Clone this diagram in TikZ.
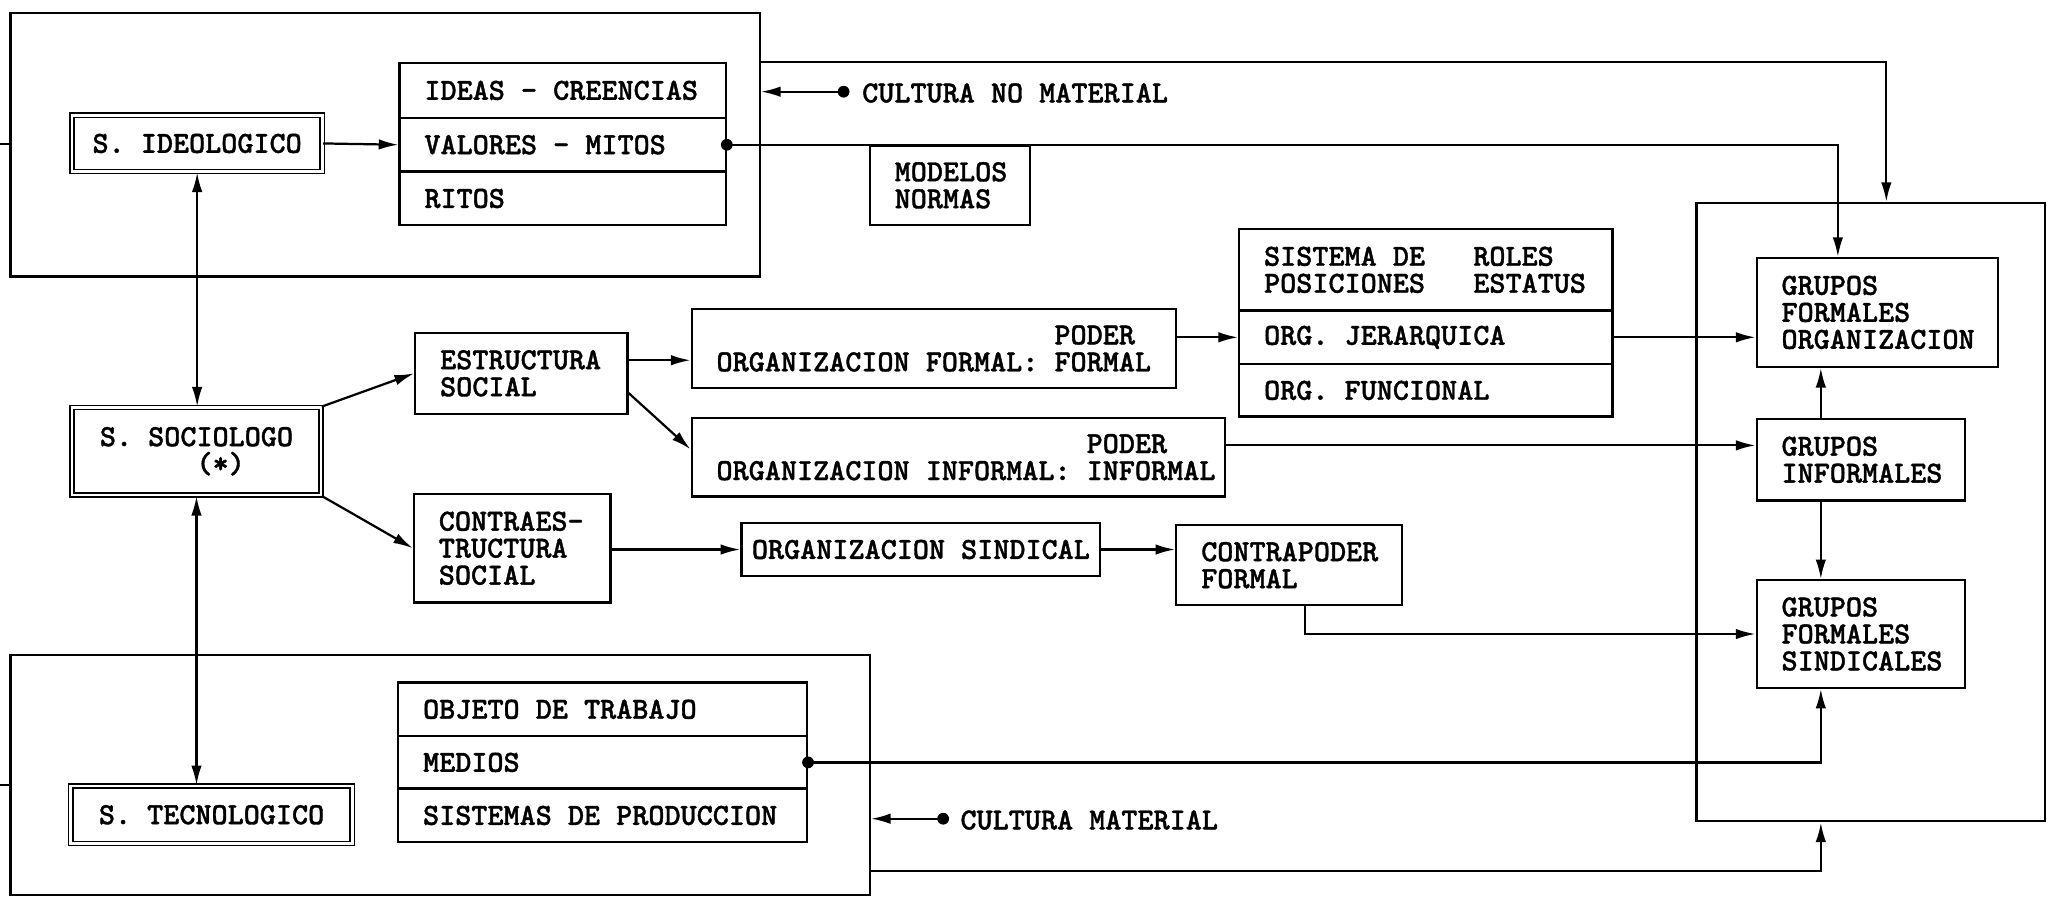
\documentclass[tikz,border=0pt]{standalone}
\usepackage{fontspec}
\newfontfamily\typewriterbold{lmmonolt10-bold}[Extension=.otf,FakeBold=1.2]
\usetikzlibrary{arrows.meta,calc}
\newcommand\diagtxt{\typewriterbold\fontsize{23.4}{20.6}\selectfont
  \hyphenpenalty=10000\exhyphenpenalty=10000\relax}
\newcommand\monospacing{\spaceskip=\fontcharwd\font`M\relax\xspaceskip=\spaceskip}
\newcommand\blanks[1]{\hspace*{#1\fontcharwd\font`M}}
\begin{document}
\begin{tikzpicture}[x=1pt,y=-1pt,
  ln/.style={line width=1.7pt},
  >={Latex[length=15pt,width=8pt]},
  arr/.style={ln,->},
  darr/.style={ln,<->},
  box/.style={draw,ln,inner xsep=19pt,inner ysep=0pt,align=left,font=\diagtxt,
    execute at begin node=\monospacing},
  sbox/.style={draw,line width=1.2pt,double,double distance=2pt,inner sep=0pt,align=center,
    font=\diagtxt,execute at begin node=\monospacing},
  frame/.style={draw,ln,inner sep=0pt},
  lbl/.style={font=\diagtxt,inner sep=0pt,anchor=west,execute at begin node=\monospacing},
  sz/.style n args={3}{minimum width=#1,minimum height=#2,text width=#3},
  dotr/.style={radius=4.5pt}]
\useasboundingbox (0,0) rectangle (1568,684);

% frames
\node[frame,minimum width=572pt,minimum height=201pt] (topframe) at (294,110.5) {};
\node[frame,minimum width=266pt,minimum height=472pt] (rightframe) at (1428,391) {};
\node[frame,minimum width=656pt,minimum height=183pt] (botframe) at (336,591.5) {};

% ideological subsystem
\node[sbox,minimum width=191pt,minimum height=43pt] (ideo) at (150.5,109.5) {S. IDEOLOGICO};
\node[box,sz={249pt}{42pt}{211pt}] (ideas) at (429.5,69) {\mbox{IDEAS - CREENCIAS}};
\node[box,sz={249pt}{41pt}{211pt}] (valores) at (429.5,110.5) {VALORES - MITOS};
\node[box,sz={249pt}{41pt}{211pt}] (ritos) at (429.5,151.5) {RITOS};
\node[box,sz={122pt}{61pt}{84pt}] (modelos) at (725,141.5) {MODELOS\\NORMAS};
\coordinate (cnmdot) at (644,70);
\node[lbl] (cnm) at (658,71) {CULTURA NO MATERIAL};

% sociological subsystem
\node[sbox,minimum width=190pt,minimum height=67pt,align=left] (socio) at (150,344.5) {S. SOCIOLOGO\\\blanks{6}(*)};
\node[box,sz={162pt}{62pt}{124pt}] (estructura) at (398,285) {\mbox{ESTRUCTURA}\\SOCIAL};
\node[box,sz={150pt}{83pt}{112pt}] (contraes) at (391,418.5) {CONTRAES-\\TRUCTURA\\SOCIAL};
\node[box,sz={370pt}{60pt}{332pt}] (orgformal) at (713,266) {\blanks{21}PODER\\\mbox{ORGANIZACION FORMAL: FORMAL}};
\node[box,sz={407pt}{60pt}{369pt}] (orginformal) at (731.5,349) {\blanks{23}PODER\\\mbox{ORGANIZACION INFORMAL: INFORMAL}};
\node[box,align=center,inner xsep=0pt,minimum width=274pt,minimum height=41pt] (sindical) at (703,419.5) {ORGANIZACION SINDICAL};
\node[box,sz={172pt}{61pt}{134pt}] (contrapoder) at (984,431.5) {\mbox{CONTRAPODER}\\FORMAL};
\node[box,sz={285pt}{62pt}{247pt}] (sisroles) at (1088.5,206) {\mbox{SISTEMA DE\blanks{3}ROLES}\\\mbox{POSICIONES\blanks{3}ESTATUS}};
\node[box,sz={285pt}{41pt}{247pt}] (jer) at (1088.5,257.5) {ORG. JERARQUICA};
\node[box,sz={285pt}{40pt}{247pt}] (func) at (1088.5,298) {ORG. FUNCIONAL};

% groups
\node[box,sz={184pt}{83pt}{146pt}] (gfo) at (1433,238.5) {GRUPOS\\FORMALES\\\mbox{ORGANIZACION}};
\node[box,sz={159pt}{62pt}{121pt}] (ginf) at (1420.5,351) {GRUPOS\\\mbox{INFORMALES}};
\node[box,sz={159pt}{82pt}{121pt}] (gfs) at (1420.5,484) {GRUPOS\\FORMALES\\\mbox{SINDICALES}};

% technological subsystem
\node[sbox,minimum width=215pt,minimum height=44pt] (tecno) at (161.5,622) {S. TECNOLOGICO};
\node[box,sz={312pt}{41pt}{274pt}] (objeto) at (460,541.5) {OBJETO DE TRABAJO};
\node[box,sz={312pt}{40pt}{274pt}] (medios) at (460,582) {MEDIOS};
\node[box,sz={312pt}{41pt}{274pt}] (sistprod) at (460,622.5) {\mbox{SISTEMAS DE PRODUCCION}};
\coordinate (cmdot) at (720,625);
\node[lbl] (cm) at (733,626) {CULTURA MATERIAL};

% routing columns
\coordinate (colA) at (1390,0);
\coordinate (colB) at (1403,0);
\coordinate (colC) at (1440,0);
\coordinate (stubtop) at (0,110);
\coordinate (stubbot) at (0,599);

% connectors
\draw[ln] (stubtop) -- (stubtop -| topframe.west);
\draw[ln] (stubbot) -- (stubbot -| botframe.west);
\draw[arr] (ideo.east) -- (valores.west);
\draw[darr] (ideo.south) -- (ideo.south |- socio.north);
\draw[darr] (socio.south) -- (socio.south |- tecno.north);
\draw[arr] (socio.north east) -- (estructura.west);
\draw[arr] (socio.south east) -- (contraes.west);
\draw[arr] ([yshift=10pt]estructura.east) coordinate (e1) -- (e1 -| orgformal.west);
\draw[arr] ([yshift=-15pt]estructura.east) -- ([yshift=6pt]orginformal.west);
\draw[arr] (orgformal.east |- jer.west) -- (jer.west);
\draw[arr] (jer.east) -- (jer.east -| gfo.west);
\draw[arr] ([yshift=9pt]orginformal.east) coordinate (i1) -- (i1 -| ginf.west);
\draw[arr] (contraes.east |- sindical.west) -- (sindical.west);
\draw[arr] (sindical.east) -- (sindical.east -| contrapoder.west);
\draw[arr] ([xshift=12pt]contrapoder.south) |- (gfs.west);
\draw[arr] (ginf.north -| colA) -- (gfo.south -| colA);
\draw[arr] (ginf.south -| colA) -- (gfs.north -| colA);
\draw[arr] (medios.east) -| (gfs.south -| colA);
\fill[dotr] (medios.east) circle;
\draw[arr] ([yshift=-73.5pt]botframe.east) -| (rightframe.south -| colA);
\draw[arr] (valores.east) -| (colB |- gfo.north);
\fill[dotr] (valores.east) circle;
\draw[arr] (topframe.east |- ideas.north) -| (colC |- rightframe.north);
\draw[arr] (cnmdot) -- (cnmdot -| topframe.east);
\fill[dotr] (cnmdot) circle;
\draw[arr] (cmdot) -- (cmdot -| botframe.east);
\fill[dotr] (cmdot) circle;
\end{tikzpicture}
\end{document}
